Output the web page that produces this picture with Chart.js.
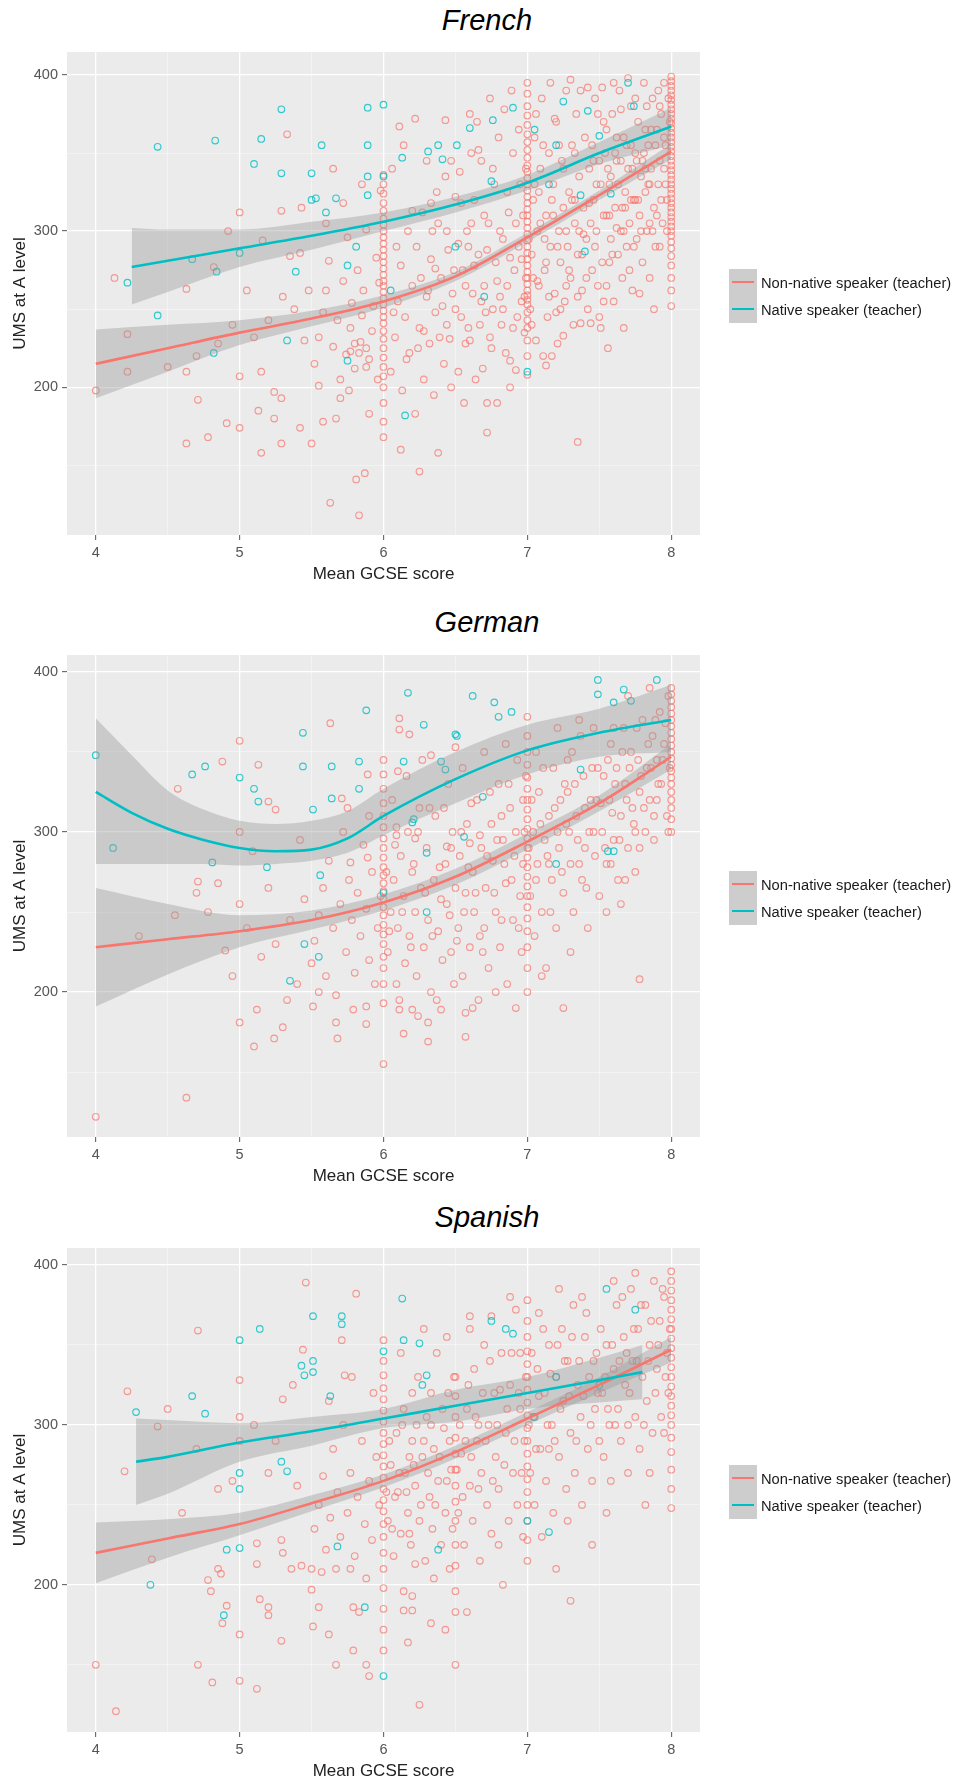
<!DOCTYPE html>
<html>
<head>
<meta charset="utf-8">
<script src="https://cdn.jsdelivr.net/npm/chart.js@4.4.1/dist/chart.umd.min.js"></script>
<style>
body { margin: 0; background: #fff; }
#page { position: relative; width: 959px; height: 1782px; overflow: hidden; font-family: "Liberation Sans", Arial, sans-serif; }
.title { position: absolute; left: 0; width: 974px; text-align: center; font-style: italic; font-size: 29px; line-height: 29px; color: #000; }
canvas { position: absolute; left: 0; }
.legend { position: absolute; left: 729px; }
.row { display: flex; align-items: center; height: 27px; }
.key { position: relative; width: 28px; height: 27px; background: #cdcdcd; }
.key span { position: absolute; left: 3px; right: 3px; top: 12px; height: 2px; }
.row label { margin-left: 4px; font-size: 14.7px; color: #1a1a1a; white-space: nowrap; }
</style>
</head>
<body>
<div id="page">
  <div class="title" style="top:6px">French</div>
  <canvas id="french" width="959" height="600" style="top:0px"></canvas>
  <div class="legend" style="top:269px">
    <div class="row"><div class="key"><span style="background:#F8766D"></span></div><label>Non-native speaker (teacher)</label></div>
    <div class="row"><div class="key"><span style="background:#00BFC4"></span></div><label>Native speaker (teacher)</label></div>
  </div>

  <div class="title" style="top:608px">German</div>
  <canvas id="german" width="959" height="600" style="top:600px"></canvas>
  <div class="legend" style="top:871px">
    <div class="row"><div class="key"><span style="background:#F8766D"></span></div><label>Non-native speaker (teacher)</label></div>
    <div class="row"><div class="key"><span style="background:#00BFC4"></span></div><label>Native speaker (teacher)</label></div>
  </div>

  <div class="title" style="top:1203px">Spanish</div>
  <canvas id="spanish" width="959" height="582" style="top:1200px"></canvas>
  <div class="legend" style="top:1465px">
    <div class="row"><div class="key"><span style="background:#F8766D"></span></div><label>Non-native speaker (teacher)</label></div>
    <div class="row"><div class="key"><span style="background:#00BFC4"></span></div><label>Native speaker (teacher)</label></div>
  </div>
</div>

<script>
// tick positions shared by the three panels
var xTickValues = [4, 4.5, 5, 5.5, 6, 6.5, 7, 7.5, 8];
var yTickValues = [150, 200, 250, 300, 350, 400];

// ---------- French ----------
var frenchNonNative = [
  [4.0,198],[4.13,270],[4.22,234],[4.22,210],[4.5,213],[4.63,210],[4.63,164],[4.63,263],[4.71,192],[4.78,168],
  [4.82,277],[4.91,177],[5.0,174],[5.0,207],[5.0,312],[5.15,158],[5.15,210],[5.13,185],[5.16,294],[5.24,180],
  [5.24,197],[5.29,193],[5.29,164],[5.29,313],[5.33,362],[5.35,284],[5.42,174],[5.42,286],[5.43,315],[5.45,230],
  [5.38,250],[5.2,243],[5.1,232],[4.95,240],[4.85,228],[4.7,220],[5.3,258],[5.48,262],[4.92,300],[5.05,262],
  [5.5,164],[5.55,201],[5.58,178],[5.63,126],[5.67,180],[5.7,193],[5.81,141],[5.83,118],[5.87,145],[5.9,183],
  [5.52,215],[5.55,232],[5.58,248],[5.6,262],[5.62,281],[5.65,226],[5.68,243],[5.7,205],[5.72,268],[5.74,221],
  [5.75,296],[5.77,238],[5.78,254],[5.8,212],[5.82,275],[5.84,229],[5.85,246],[5.86,262],[5.88,301],[5.9,218],
  [5.92,236],[5.93,252],[5.95,283],[5.96,205],[5.97,267],[5.98,326],[5.6,305],[5.72,318],[5.85,330],[5.65,340],
  [5.76,198],[5.8,228],[5.83,222],[5.88,225],[5.88,213],[5.77,223],
  [6.05,210],[6.08,232],[6.1,255],[6.12,278],[6.13,198],[6.15,245],[6.17,300],[6.18,222],[6.2,265],[6.22,183],
  [6.23,290],[6.25,146],[6.25,238],[6.27,312],[6.28,205],[6.3,258],[6.32,228],[6.33,282],[6.35,195],[6.36,248],
  [6.38,158],[6.38,305],[6.4,270],[6.42,215],[6.43,335],[6.44,240],[6.45,288],[6.47,200],[6.48,260],[6.5,322],
  [6.06,340],[6.14,355],[6.22,372],[6.11,367],[6.3,345],[6.43,371],[6.6,375],[6.12,160],[6.2,313],[6.26,270],
  [6.34,300],[6.41,252],[6.46,231],[6.09,290],[6.16,218],[6.28,236],[6.37,325],[6.49,275],[6.07,248],[6.24,225],
  [6.52,210],[6.54,245],[6.55,275],[6.56,190],[6.58,300],[6.6,230],[6.62,260],[6.63,320],[6.64,205],[6.66,285],
  [6.67,240],[6.68,345],[6.7,265],[6.72,171],[6.72,190],[6.73,305],[6.75,225],[6.76,250],[6.77,330],[6.78,280],
  [6.79,190],[6.8,360],[6.82,240],[6.83,295],[6.85,222],[6.86,265],[6.87,312],[6.88,217],[6.88,200],[6.9,350],
  [6.91,275],[6.92,211],[6.93,245],[6.94,290],[6.95,330],[6.96,255],[6.97,310],[6.98,235],[6.53,338],[6.61,350],
  [6.65,370],[6.74,385],[6.84,378],[6.89,390],[6.57,228],[6.69,212],[6.81,258],[6.99,270],[6.59,290],[6.71,248],
  [7.02,250],[7.03,285],[7.04,320],[7.05,360],[7.06,230],[7.07,300],[7.08,265],[7.09,340],[7.1,385],[7.11,220],
  [7.12,275],[7.13,214],[7.13,310],[7.14,245],[7.15,350],[7.16,290],[7.17,220],[7.18,330],[7.19,260],[7.2,370],
  [7.21,228],[7.22,300],[7.23,280],[7.24,345],[7.25,233],[7.25,315],[7.26,255],[7.27,390],[7.28,290],[7.29,325],
  [7.3,270],[7.31,355],[7.32,240],[7.33,305],[7.34,375],[7.35,165],[7.35,285],[7.36,335],[7.37,241],[7.38,262],
  [7.39,315],[7.4,360],[7.41,295],[7.42,250],[7.43,340],[7.44,241],[7.45,275],[7.46,320],[7.47,385],[7.48,300],
  [7.49,265],[7.5,245],[7.5,345],[7.06,375],[7.16,395],[7.3,397],[7.42,392],[7.08,325],[7.18,310],[7.27,265],
  [7.38,285],[7.46,345],[7.12,295],[7.22,355],[7.33,320],[7.44,305],[7.04,270],[7.2,248],[7.36,300],[7.48,330],
  [7.51,238],[7.52,280],[7.53,310],[7.54,350],[7.55,265],[7.56,225],[7.57,330],[7.58,295],[7.59,375],[7.6,255],
  [7.61,315],[7.62,345],[7.63,285],[7.64,390],[7.65,300],[7.66,270],[7.67,238],[7.67,360],[7.68,325],[7.69,290],
  [7.7,340],[7.71,305],[7.72,380],[7.73,262],[7.74,320],[7.75,350],[7.76,295],[7.77,370],[7.78,310],[7.79,335],
  [7.8,280],[7.81,395],[7.82,325],[7.83,300],[7.84,355],[7.85,270],[7.86,340],[7.87,385],[7.88,315],[7.89,290],
  [7.9,365],[7.91,330],[7.92,345],[7.93,375],[7.94,305],[7.95,395],[7.96,355],[7.97,320],[7.98,385],[7.53,370],
  [7.6,395],[7.7,398],[7.57,280],[7.65,345],[7.75,320],[7.85,305],[7.95,340],[7.62,302],[7.72,355],[7.82,365],
  [7.92,290],[7.78,260],[7.88,250],[7.55,310],[7.68,315],[7.8,345],[7.9,310],[7.58,335],[7.74,290],[7.84,330]
];
// the crowded band between 6.3 and 8
var frenchNonNativeDense = [
  [6.31,262],[6.33,318],[6.36,276],[6.39,232],[6.44,300],[6.47,345],[6.5,250],[6.52,292],[6.54,318],[6.57,265],
  [6.59,238],[6.61,305],[6.63,278],[6.66,352],[6.68,255],[6.7,310],[6.72,288],[6.74,232],[6.76,340],[6.79,268],
  [6.81,300],[6.83,250],[6.86,325],[6.88,283],[6.9,238],[6.92,305],[6.94,365],[6.96,282],[6.98,258],[6.99,340],
  [7.01,295],[7.03,240],[7.05,330],[7.07,268],[7.09,305],[7.11,355],[7.13,280],[7.15,258],[7.17,320],[7.19,372],
  [7.21,290],[7.23,250],[7.25,340],[7.27,300],[7.29,275],[7.31,320],[7.33,350],[7.35,258],[7.37,390],[7.39,298],
  [7.41,270],[7.43,318],[7.45,355],[7.47,290],[7.49,375],[7.51,330],[7.53,255],[7.55,365],[7.57,310],[7.59,285],
  [7.61,350],[7.63,330],[7.65,378],[7.67,300],[7.69,355],[7.71,275],[7.73,340],[7.75,385],[7.77,320],[7.79,300],
  [7.81,350],[7.83,380],[7.85,330],[7.87,300],[7.89,355],[7.91,390],[7.93,320],[7.95,360],[7.97,300],[7.99,370],
  [7.56,340],[7.66,315],[7.76,345],[7.86,365],[7.96,330],[7.52,392],[7.62,360],[7.72,320],[7.82,340],[7.92,380]
];
var frenchNonNativeAt6 = [168,178,190,200,207,213,219,225,231,236,241,245,249,253,257,261,265,268,272,276,280,284,288,292,296,300,304,308,313,318,324,330,336];
var frenchNonNativeAt7 = [208,220,230,238,243,248,253,256,259,262,266,270,274,278,282,286,290,294,298,302,306,310,314,318,322,326,330,334,338,342,347,352,357,362,368,374,380,388,395];
var frenchNonNativeAt8 = [252,262,270,278,284,289,293,297,300,303,306,309,312,315,318,321,324,327,330,333,336,339,342,345,348,351,354,357,360,363,366,369,372,375,378,381,384,387,390,393,396,399];
var frenchNative = [
  [4.43,354],[4.83,358],[5.15,359],[5.29,378],[5.1,343],[5.29,337],[5.57,355],[5.89,379],[6.0,381],[5.89,355],
  [5.5,337],[5.5,320],[5.53,321],[5.67,321],[5.6,312],[5.89,323],[5.89,335],[6.0,335],[6.13,347],[6.38,355],
  [6.51,355],[6.31,351],[6.41,346],[4.67,282],[4.84,274],[5.0,286],[4.22,267],[5.39,274],[5.75,278],[5.81,290],
  [4.43,246],[4.82,222],[5.33,230],[5.75,217],[6.15,182],[6.05,262],[6.6,366],[6.76,371],[6.9,379],[7.25,383],
  [7.42,377],[7.7,395],[7.74,380],[7.5,361],[7.37,323],[7.05,365],[7.2,355],[6.75,332],[7.15,330],[6.5,290],
  [6.7,258],[7.0,210],[7.4,287],[7.58,324]
];
var frenchFitX = [4, 4.5, 5, 5.5, 6, 6.5, 7, 7.5, 8];
var frenchNonNativeFit  = [215, 225, 235, 244, 255, 271, 296, 323, 351];
var frenchNonNativeHigh = [237, 240, 243, 249, 259, 274, 299, 326, 356];
var frenchNonNativeLow  = [193, 210, 227, 239, 251, 268, 293, 320, 346];
var frenchNativeFitX = [4.25, 4.5, 5, 5.5, 6, 6.5, 7, 7.5, 8];
var frenchNativeFit  = [277, 281, 289, 297, 306, 317, 331, 350, 367];
var frenchNativeHigh = [302, 301, 301, 306, 312, 322, 336, 357, 379];
var frenchNativeLow  = [253, 261, 277, 288, 300, 312, 326, 343, 355];

// ---------- German ----------
var germanNonNative = [
  [4.0,122],[4.63,134],[5.0,181],[5.12,189],[5.1,166],[5.24,171],[5.3,178],[5.51,191],[5.67,181],[5.68,171],
  [5.79,189],[5.88,191],[5.88,180],[6.11,189],[6.14,174],[6.2,189],[6.31,169],[6.31,181],[6.4,189],[6.57,187],
  [6.57,172],[5.0,357],[4.88,344],[4.57,327],[5.13,342],[5.2,319],[5.25,314],[5.63,368],[5.89,336],[5.71,321],
  [6.11,371],[6.11,364],[6.18,361],[6.1,338],[6.33,348],[6.5,353],[5.09,288],[4.71,269],[4.85,268],[5.77,281],
  [5.89,284],[6.09,303],[6.09,298],[6.22,296],[6.44,291],[6.6,293],
  [4.3,235],[4.55,248],[4.7,262],[4.78,250],[4.9,226],[5.0,255],[5.0,300],[5.05,240],[5.15,222],[5.2,265],
  [5.25,230],[5.35,245],[5.4,205],[5.45,258],[5.5,218],[5.33,195],[5.42,295],[4.95,210],
  [5.52,232],[5.55,248],[5.58,265],[5.6,210],[5.62,282],[5.65,240],[5.67,198],[5.7,255],[5.72,300],[5.74,225],
  [5.76,270],[5.78,245],[5.8,212],[5.82,262],[5.84,235],[5.86,292],[5.88,252],[5.9,220],[5.92,275],[5.94,205],
  [5.96,240],[5.98,260],[5.55,200],[5.75,315],[5.9,310],
  [6.03,225],[6.05,250],[6.07,270],[6.09,205],[6.1,240],[6.12,285],[6.14,260],[6.15,218],[6.17,300],[6.18,235],
  [6.2,275],[6.22,250],[6.23,210],[6.25,315],[6.26,265],[6.28,228],[6.3,290],[6.31,245],[6.33,200],[6.35,270],
  [6.36,310],[6.38,238],[6.4,258],[6.41,220],[6.43,280],[6.45,330],[6.46,248],[6.48,300],[6.49,205],[6.5,265],
  [6.06,320],[6.16,335],[6.27,345],[6.42,315],[6.11,195],[6.24,185],[6.37,195],[6.47,225],
  [6.52,240],[6.53,285],[6.55,210],[6.57,262],[6.58,305],[6.6,228],[6.62,275],[6.63,250],[6.65,320],[6.66,195],
  [6.68,290],[6.7,240],[6.71,265],[6.73,215],[6.75,305],[6.76,282],[6.78,250],[6.8,330],[6.81,228],[6.83,295],
  [6.85,268],[6.86,205],[6.88,315],[6.9,245],[6.91,285],[6.93,345],[6.95,260],[6.96,225],[6.98,300],[6.55,340],
  [6.7,350],[6.85,355],[6.62,190],[6.78,200],[6.92,190],[6.67,235],[6.82,310],[6.97,320],
  [7.02,260],[7.04,300],[7.05,235],[7.07,280],[7.08,325],[7.1,250],[7.12,295],[7.13,215],[7.15,310],[7.17,270],
  [7.18,340],[7.2,240],[7.22,290],[7.23,320],[7.25,190],[7.25,262],[7.27,305],[7.28,345],[7.3,280],[7.32,250],
  [7.33,330],[7.35,295],[7.37,360],[7.38,270],[7.4,315],[7.42,240],[7.43,300],[7.45,340],[7.47,285],[7.48,320],
  [7.5,260],[7.06,350],[7.21,365],[7.36,370],[7.46,365],[7.1,210],[7.3,225],[7.15,280],[7.4,290],[7.28,325],
  [7.52,300],[7.53,335],[7.55,280],[7.57,320],[7.58,355],[7.6,295],[7.62,340],[7.63,270],[7.65,310],[7.67,365],
  [7.68,330],[7.7,290],[7.72,350],[7.73,315],[7.75,275],[7.77,345],[7.78,208],[7.78,325],[7.8,370],[7.82,300],
  [7.83,340],[7.85,320],[7.87,360],[7.88,295],[7.9,345],[7.92,375],[7.93,330],[7.95,355],[7.97,310],[7.98,385],
  [7.55,250],[7.65,255],[7.7,385],[7.85,390],[7.6,365],[7.75,300],[7.9,320]
];
var germanNonNativeDense = [
  [6.02,275],[6.04,238],[6.08,292],[6.13,250],[6.19,228],[6.21,280],[6.24,300],[6.29,262],[6.32,315],[6.34,235],
  [6.39,278],[6.44,255],[6.47,290],[6.51,232],[6.54,300],[6.56,250],[6.59,278],[6.61,318],[6.64,262],[6.67,298],
  [6.69,225],[6.72,285],[6.74,325],[6.77,262],[6.79,295],[6.82,245],[6.84,280],[6.87,330],[6.89,270],[6.92,300],
  [6.94,240],[6.97,280],[6.99,335],[7.01,290],[7.03,320],[7.06,270],[7.09,305],[7.11,340],[7.14,285],[7.16,250],
  [7.19,315],[7.21,300],[7.24,275],[7.26,330],[7.29,300],[7.31,350],[7.34,310],[7.36,280],[7.39,335],[7.41,265],
  [7.44,320],[7.46,300],[7.49,340],[7.51,318],[7.54,290],[7.56,345],[7.59,312],[7.61,330],[7.64,295],[7.66,350],
  [7.69,320],[7.71,340],[7.74,305],[7.76,365],[7.79,335],[7.81,315],[7.84,355],[7.86,340],[7.89,370],[7.91,330],
  [7.94,345],[7.96,368],[7.99,340],[7.58,280],[7.68,270],[7.78,290],[7.88,310],[7.98,300]
];
var germanNonNativeAt6 = [155,193,205,215,222,230,236,242,248,253,258,263,268,273,278,284,290,296,303,310,318,327,336,345];
var germanNonNativeAt7 = [200,215,228,238,246,253,260,266,272,278,284,290,296,302,308,314,320,327,334,342,350,360,372];
var germanNonNativeAt8 = [300,308,315,320,325,330,334,338,342,346,350,354,358,362,366,370,374,378,382,386,390];
var germanNative = [
  [4.0,348],[4.12,290],[4.67,336],[4.76,341],[5.0,334],[5.1,327],[5.13,319],[5.44,362],[5.44,341],[5.64,341],
  [5.88,376],[5.83,344],[5.83,327],[5.64,321],[5.51,314],[6.17,387],[6.51,360],[6.28,367],[6.14,344],[6.4,344],
  [6.62,385],[5.19,278],[4.81,281],[5.56,273],[6.2,306],[6.3,287],[6.56,297],[6.43,339],[6.77,381],[6.89,375],
  [6.8,372],[7.49,395],[7.49,386],[7.6,381],[7.67,389],[7.72,382],[7.9,395],[6.5,361],[6.69,322],[7.37,339],
  [7.56,288],[6.21,308],[5.35,207],[5.45,230],[5.55,222],[6.0,262],[6.3,250],[7.2,280],[7.6,288]
];
var germanFitX = [4, 4.5, 5, 5.5, 6, 6.5, 7, 7.5, 8];
var germanNonNativeFit  = [228, 233, 238, 245, 256, 272, 294, 318, 347];
var germanNonNativeHigh = [265, 255, 248, 251, 261, 277, 299, 323, 355];
var germanNonNativeLow  = [191, 211, 228, 239, 251, 267, 289, 313, 339];
var germanNativeFitX = [4, 4.25, 4.5, 4.75, 5, 5.25, 5.5, 5.75, 6, 6.5, 7, 7.5, 8];
var germanNativeFit  = [325, 312, 302, 295, 290, 288, 289, 296, 310, 333, 351, 362, 370];
var germanNativeHigh = [371, 348, 326, 314, 307, 305, 307, 313, 327, 350, 367, 377, 392];
var germanNativeLow  = [280, 280, 280, 280, 279, 280, 282, 287, 298, 318, 336, 347, 350];

// ---------- Spanish ----------
var spanishNonNative = [
  [4.22,321],[4.5,310],[4.71,359],[5.0,328],[5.3,316],[5.37,325],[5.44,347],[5.46,389],[5.71,353],[5.81,382],
  [5.73,331],[6.6,368],[4.43,299],[4.2,271],[4.0,150],[4.14,121],[4.39,216],[4.85,260],[4.78,203],[4.8,196],
  [4.85,210],[4.87,207],[4.91,187],[4.88,176],[5.0,169],[4.71,150],[4.81,139],[5.0,140],[5.12,135],[5.12,213],
  [5.14,191],[5.2,186],[5.2,181],[5.29,165],[5.12,226],[5.29,228],[5.3,220],[5.36,210],[5.43,212],[5.5,197],
  [5.51,174],[5.55,186],[5.62,169],[5.67,150],[5.79,159],[5.88,150],[5.9,143],[6.25,125],[6.17,164],
  [6.33,176],[6.43,172],[5.83,183],[5.79,186],[6.14,184],[6.2,184],[6.14,196],[6.2,193],[5.88,204],
  [5.77,210],[5.67,210],[5.57,208],[5.5,210],[6.58,183],[6.35,204],[6.22,213],[5.0,290],[5.0,305],
  [4.6,245],[4.95,265],[5.2,270],[5.4,262],[5.1,300],[5.25,290],[4.7,285],
  [5.52,235],[5.55,250],[5.58,268],[5.6,222],[5.63,242],[5.65,285],[5.68,258],[5.7,230],[5.72,300],[5.75,245],
  [5.77,270],[5.8,218],[5.82,255],[5.85,290],[5.87,238],[5.9,265],[5.92,228],[5.95,280],[5.97,250],[5.62,315],
  [5.78,330],[5.93,320],
  [6.03,240],[6.05,275],[6.07,218],[6.09,295],[6.1,258],[6.12,232],[6.14,310],[6.15,270],[6.17,245],[6.19,225],
  [6.2,290],[6.22,262],[6.24,330],[6.25,240],[6.27,280],[6.29,215],[6.3,305],[6.32,255],[6.34,235],[6.35,285],
  [6.37,345],[6.38,265],[6.4,225],[6.42,298],[6.43,245],[6.45,320],[6.47,272],[6.48,235],[6.12,345],[6.28,360],
  [6.44,355],[6.08,255],[6.18,280],[6.33,300],[6.46,210],[6.2,320],
  [6.52,245],[6.54,282],[6.56,225],[6.58,310],[6.6,262],[6.62,240],[6.63,335],[6.65,290],[6.67,215],[6.68,270],
  [6.7,350],[6.72,250],[6.73,300],[6.75,232],[6.77,320],[6.78,280],[6.8,260],[6.82,345],[6.83,200],[6.85,295],
  [6.87,240],[6.88,325],[6.9,270],[6.92,372],[6.93,250],[6.95,310],[6.97,230],[6.98,290],[6.6,360],[6.75,368],
  [6.88,380],[6.66,300],[6.8,225],[6.95,345],
  [7.02,270],[7.04,305],[7.05,250],[7.07,335],[7.09,285],[7.1,230],[7.12,320],[7.13,265],[7.15,350],[7.17,300],
  [7.18,245],[7.2,210],[7.2,330],[7.22,280],[7.24,360],[7.25,315],[7.27,260],[7.28,340],[7.3,190],[7.3,295],
  [7.32,375],[7.33,270],[7.35,325],[7.37,305],[7.38,250],[7.4,355],[7.42,285],[7.43,330],[7.45,265],[7.47,310],
  [7.48,345],[7.5,290],[7.08,370],[7.22,385],[7.38,380],[7.15,285],[7.28,240],[7.45,225],
  [7.52,320],[7.53,280],[7.55,350],[7.57,300],[7.58,265],[7.6,335],[7.62,375],[7.63,310],[7.65,290],[7.67,355],
  [7.68,325],[7.7,270],[7.72,385],[7.73,340],[7.75,305],[7.77,360],[7.78,285],[7.8,330],[7.82,250],[7.82,375],
  [7.83,315],[7.85,350],[7.87,295],[7.88,390],[7.9,335],[7.92,365],[7.93,305],[7.95,380],[7.97,345],[7.98,320],
  [7.6,390],[7.75,395],[7.55,245],[7.7,300],[7.85,270],[7.95,295]
];
var spanishNonNativeDense = [
  [6.02,258],[6.04,290],[6.06,235],[6.11,270],[6.13,300],[6.16,258],[6.18,232],[6.21,275],[6.23,300],[6.26,250],
  [6.28,290],[6.31,270],[6.33,320],[6.36,250],[6.39,280],[6.41,310],[6.44,265],[6.46,290],[6.49,330],[6.51,272],
  [6.53,300],[6.55,255],[6.57,290],[6.59,325],[6.61,280],[6.64,305],[6.66,260],[6.69,320],[6.71,290],[6.74,340],
  [6.76,265],[6.79,300],[6.81,322],[6.84,275],[6.86,310],[6.89,345],[6.91,290],[6.94,320],[6.96,270],[6.99,330],
  [7.01,300],[7.03,345],[7.06,285],[7.08,318],[7.11,360],[7.14,300],[7.16,332],[7.19,290],[7.21,350],[7.23,310],
  [7.26,340],[7.29,318],[7.31,355],[7.34,290],[7.36,340],[7.39,318],[7.41,370],[7.44,300],[7.46,340],[7.49,320],
  [7.51,360],[7.54,330],[7.56,310],[7.59,350],[7.61,300],[7.64,340],[7.66,380],[7.69,345],[7.71,320],[7.74,360],
  [7.76,340],[7.79,375],[7.81,300],[7.84,340],[7.86,365],[7.89,320],[7.91,350],[7.94,385],[7.96,330],[7.99,360]
];
var spanishNonNativeAt6 = [159,172,185,198,210,220,230,238,246,253,260,267,274,281,288,295,302,309,316,323,331,340,353];
var spanishNonNativeAt65 = [150,183,196,212,225,240,252,262,272,282,292,305,318,330];
var spanishNonNativeAt7 = [215,228,240,250,258,266,274,282,290,298,306,314,322,330,338,346,355,365,378];
var spanishNonNativeAt8 = [248,260,272,283,292,300,306,312,318,324,330,336,342,348,354,360,366,372,378,384,390,396];
var spanishNative = [
  [4.28,308],[4.67,318],[4.76,307],[5.0,353],[5.14,360],[5.51,368],[5.43,337],[5.51,340],[5.45,331],[5.51,333],
  [5.71,368],[5.71,363],[5.63,318],[6.13,379],[6.14,353],[6.0,346],[6.25,351],[6.3,331],[6.27,325],[5.29,277],
  [5.33,271],[5.0,270],[4.38,200],[4.91,222],[5.0,223],[5.0,260],[4.89,181],[6.0,143],[5.87,186],[5.68,224],
  [6.38,222],[6.75,365],[6.85,360],[6.9,357],[7.0,240],[7.15,233],[7.2,330],[7.55,385],[7.75,372],[7.5,325],
  [7.05,305]
];
var spanishFitX = [4, 4.5, 5, 5.5, 6, 6.5, 7, 7.5, 8];
var spanishNonNativeFit  = [220, 229, 238, 251, 265, 283, 304, 325, 347];
var spanishNonNativeHigh = [239, 241, 245, 256, 269, 287, 308, 330, 355];
var spanishNonNativeLow  = [201, 217, 231, 246, 261, 279, 300, 320, 339];
var spanishNativeFitX = [4.28, 4.5, 5, 5.5, 6, 6.5, 7, 7.5, 7.8];
var spanishNativeFit  = [277, 280, 289, 296, 304, 312, 320, 328, 333];
var spanishNativeHigh = [304, 303, 301, 305, 310, 322, 330, 342, 350];
var spanishNativeLow  = [250, 257, 277, 287, 298, 302, 310, 314, 316];

// ---------- drawing ----------
var RED = '#F8766D', TEAL = '#00BFC4';
var FONT = '"Liberation Sans", Arial, sans-serif';

function pairs(list) { return list.map(function(p){ return {x: p[0], y: p[1]}; }); }
function column(x, ys) { return ys.map(function(y){ return {x: x, y: y}; }); }
function curve(xs, ys) { return xs.map(function(x, i){ return {x: x, y: ys[i]}; }); }

var panelBackground = {
  id: 'panelBackground',
  beforeDraw: function(chart) {
    var a = chart.chartArea, ctx = chart.ctx;
    ctx.save();
    ctx.fillStyle = '#EBEBEB';
    ctx.fillRect(a.left, a.top, a.right - a.left, a.bottom - a.top);
    ctx.restore();
  }
};

function isMajor(ctx, step) {
  return ctx.tick && Math.abs(ctx.tick.value / step - Math.round(ctx.tick.value / step)) < 1e-6;
}

function band(xs, ys, fillNext, order) {
  return {
    type: 'line', data: curve(xs, ys), fill: fillNext ? '+1' : false,
    backgroundColor: 'rgba(153,153,153,0.4)', borderColor: 'rgba(0,0,0,0)', borderWidth: 0,
    pointRadius: 0, cubicInterpolationMode: 'monotone', order: order
  };
}

function fit(xs, ys, color, order) {
  return {
    type: 'line', data: curve(xs, ys), fill: false, borderColor: color, borderWidth: 2.6,
    pointRadius: 0, cubicInterpolationMode: 'monotone', order: order
  };
}

function drawPanel(id, p) {
  new Chart(document.getElementById(id), {
    type: 'scatter',
    data: {
      datasets: [
        { data: p.red, pointRadius: 3.3, borderWidth: 1.15, borderColor: 'rgba(248,118,109,0.72)', backgroundColor: 'rgba(0,0,0,0)', order: 6 },
        { data: p.teal, pointRadius: 3.3, borderWidth: 1.15, borderColor: 'rgba(0,191,196,0.8)', backgroundColor: 'rgba(0,0,0,0)', order: 5 },
        band(p.redX, p.redHigh, true, 4),
        band(p.redX, p.redLow, false, 4),
        band(p.tealX, p.tealHigh, true, 3),
        band(p.tealX, p.tealLow, false, 3),
        fit(p.redX, p.redFit, RED, 2),
        fit(p.tealX, p.tealFit, TEAL, 1)
      ]
    },
    options: {
      responsive: false,
      animation: false,
      events: [],
      layout: { padding: { top: p.padTop, bottom: p.padBottom, left: 0, right: 259 } },
      plugins: { legend: { display: false }, tooltip: { enabled: false } },
      scales: {
        x: {
          type: 'linear', min: 3.8, max: 8.2,
          afterBuildTicks: function(s) { s.ticks = xTickValues.map(function(v){ return {value: v}; }); },
          afterFit: function(s) { s.height = 50; },
          border: { display: false },
          grid: {
            color: function(c) { return isMajor(c, 1) ? '#FFFFFF' : 'rgba(255,255,255,0.6)'; },
            lineWidth: function(c) { return isMajor(c, 1) ? 1.3 : 0.7; },
            tickLength: 5,
            tickColor: function(c) { return isMajor(c, 1) ? '#555555' : 'rgba(0,0,0,0)'; },
            tickWidth: 1
          },
          ticks: {
            autoSkip: false, maxRotation: 0, padding: 4,
            color: '#555555', font: { family: FONT, size: 14.5 },
            callback: function(v) { return Math.abs(v - Math.round(v)) < 1e-6 ? String(Math.round(v)) : ''; }
          },
          title: { display: true, text: 'Mean GCSE score', color: '#222222', font: { family: FONT, size: 17 }, padding: { top: 0, bottom: 0 } }
        },
        y: {
          type: 'linear', min: p.yMin, max: p.yMax,
          afterBuildTicks: function(s) { s.ticks = yTickValues.map(function(v){ return {value: v}; }); },
          afterFit: function(s) { s.width = 67; },
          border: { display: false },
          grid: {
            color: function(c) { return isMajor(c, 100) ? '#FFFFFF' : 'rgba(255,255,255,0.6)'; },
            lineWidth: function(c) { return isMajor(c, 100) ? 1.3 : 0.7; },
            tickLength: 5,
            tickColor: function(c) { return isMajor(c, 100) ? '#555555' : 'rgba(0,0,0,0)'; },
            tickWidth: 1
          },
          ticks: {
            autoSkip: false, padding: 4,
            color: '#555555', font: { family: FONT, size: 14.5 },
            callback: function(v) { return Math.abs(v / 100 - Math.round(v / 100)) < 1e-6 ? String(Math.round(v)) : ''; }
          },
          title: { display: true, text: 'UMS at A level', color: '#222222', font: { family: FONT, size: 17 }, padding: { top: 10, bottom: 0 } }
        }
      }
    },
    plugins: [panelBackground]
  });
}

drawPanel('french', {
  red: pairs(frenchNonNative).concat(pairs(frenchNonNativeDense), column(6, frenchNonNativeAt6), column(7, frenchNonNativeAt7), column(8, frenchNonNativeAt8)),
  teal: pairs(frenchNative),
  redX: frenchFitX, redFit: frenchNonNativeFit, redHigh: frenchNonNativeHigh, redLow: frenchNonNativeLow,
  tealX: frenchNativeFitX, tealFit: frenchNativeFit, tealHigh: frenchNativeHigh, tealLow: frenchNativeLow,
  yMin: 105.4, yMax: 414.7, padTop: 52, padBottom: 15
});

drawPanel('german', {
  red: pairs(germanNonNative).concat(pairs(germanNonNativeDense), column(6, germanNonNativeAt6), column(7, germanNonNativeAt7), column(8, germanNonNativeAt8)),
  teal: pairs(germanNative),
  redX: germanFitX, redFit: germanNonNativeFit, redHigh: germanNonNativeHigh, redLow: germanNonNativeLow,
  tealX: germanNativeFitX, tealFit: germanNativeFit, tealHigh: germanNativeHigh, tealLow: germanNativeLow,
  yMin: 109.4, yMax: 410.6, padTop: 55, padBottom: 13
});

drawPanel('spanish', {
  red: pairs(spanishNonNative).concat(pairs(spanishNonNativeDense), column(6, spanishNonNativeAt6), column(6.5, spanishNonNativeAt65), column(7, spanishNonNativeAt7), column(8, spanishNonNativeAt8)),
  teal: pairs(spanishNative),
  redX: spanishFitX, redFit: spanishNonNativeFit, redHigh: spanishNonNativeHigh, redLow: spanishNonNativeLow,
  tealX: spanishNativeFitX, tealFit: spanishNativeFit, tealHigh: spanishNativeHigh, tealLow: spanishNativeLow,
  yMin: 108, yMax: 410.6, padTop: 48, padBottom: 0
});
</script>
</body>
</html>
